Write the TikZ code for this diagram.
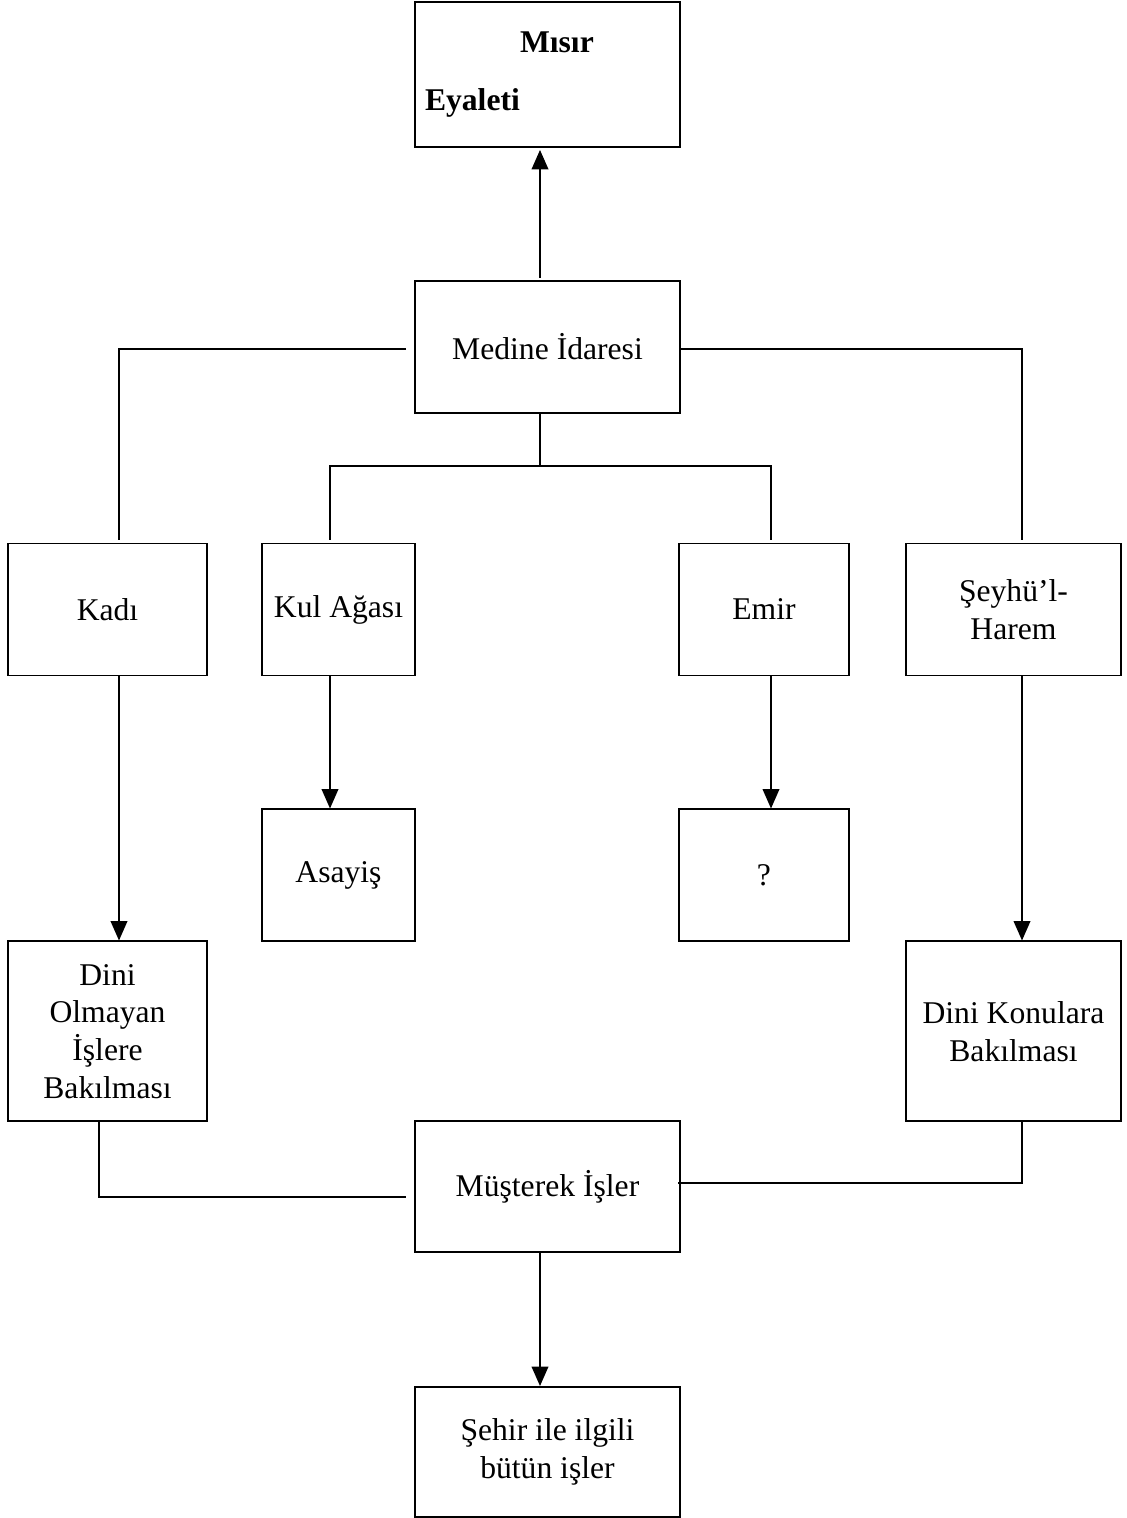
\documentclass[tikz,border=0pt]{standalone}
\usepackage{fontspec}
\setmainfont{Liberation Serif}
\usetikzlibrary{arrows.meta, positioning}

\begin{document}
\begin{tikzpicture}[
    node distance=2.64cm,
    box/.style={rectangle, draw, line width=1.1pt, minimum height=2.64cm, align=center,
        font=\fontsize{18}{21.5}\selectfont},
    link/.style={line width=0.75pt},
    arrow/.style={line width=0.75pt, -{Triangle[width=9.5pt,length=11pt]}}
]
    \useasboundingbox (0,0) rectangle (22.54,-30.36);

    \node[box, minimum width=5.3cm, minimum height=2.9cm, text width=4.9cm, align=left,
        inner xsep=0.2cm, font=\fontsize{18}{21.5}\selectfont\bfseries]
        (misir) at (10.95,-1.49) {\hspace*{1.9cm}Mısır\\[0.4cm]Eyaleti};
    \node[box, minimum width=5.3cm, below=of misir] (medine) {Medine İdaresi};

    \node[box, minimum width=3.98cm] (kadi) at (2.15,-12.19) {Kadı};
    \node[box, minimum width=3.06cm] (kul) at (6.77,-12.19) {Kul Ağası};
    \node[box, minimum width=3.4cm] (emir) at (15.28,-12.19) {Emir};
    \node[box, minimum width=4.3cm] (seyh) at (20.27,-12.19) {Şeyhü’l-\\Harem};

    \node[box, minimum width=3.06cm, below=of kul] (asayis) {Asayiş};
    \node[box, minimum width=3.4cm, below=of emir] (soru) {?};

    \node[box, minimum width=3.98cm, minimum height=3.6cm, below=5.28cm of kadi] (dinio)
        {Dini\\Olmayan\\İşlere\\Bakılması};
    \node[box, minimum width=4.3cm, minimum height=3.6cm, below=5.28cm of seyh] (dinik)
        {Dini Konulara\\Bakılması};

    \node[box, minimum width=5.3cm, minimum height=2.62cm] (musterek) at (10.95,-23.73) {Müşterek İşler};
    \node[box, minimum width=5.3cm, minimum height=2.6cm, below=2.66cm of musterek] (sehir) {Şehir ile ilgili\\bütün işler};

    % Medine -> Misir
    \draw[arrow] ([xshift=-0.15cm, yshift=0.04cm]medine.north) -- ([xshift=-0.15cm, yshift=-0.04cm]misir.south);

    % upper branches
    \draw[link] ([xshift=-0.16cm, yshift=-0.04cm]medine.west) -| ([xshift=0.23cm, yshift=0.06cm]kadi.north);
    \draw[link] ([yshift=-0.04cm]medine.east) -| ([xshift=0.17cm, yshift=0.06cm]seyh.north);
    \draw[link] ([xshift=-0.15cm]medine.south) -- ++(0,-1.04) coordinate (fork);
    \draw[link] ([xshift=-0.17cm, yshift=0.06cm]kul.north) |- (fork) -| ([xshift=0.14cm, yshift=0.06cm]emir.north);

    % down arrows
    \draw[arrow] ([xshift=0.23cm]kadi.south) -- ([xshift=0.23cm]dinio.north);
    \draw[arrow] ([xshift=-0.17cm]kul.south) -- ([xshift=-0.17cm]asayis.north);
    \draw[arrow] ([xshift=0.14cm]emir.south) -- ([xshift=0.14cm]soru.north);
    \draw[arrow] ([xshift=0.17cm]seyh.south) -- ([xshift=0.17cm]dinik.north);

    % joint work
    \draw[link] ([xshift=-0.17cm]dinio.south) |- ([xshift=-0.16cm, yshift=-0.21cm]musterek.west);
    \draw[link] ([xshift=0.17cm]dinik.south) |- ([xshift=-0.06cm, yshift=0.07cm]musterek.east);
    \draw[arrow] ([xshift=-0.15cm]musterek.south) -- ([xshift=-0.15cm]sehir.north);
\end{tikzpicture}
\end{document}
